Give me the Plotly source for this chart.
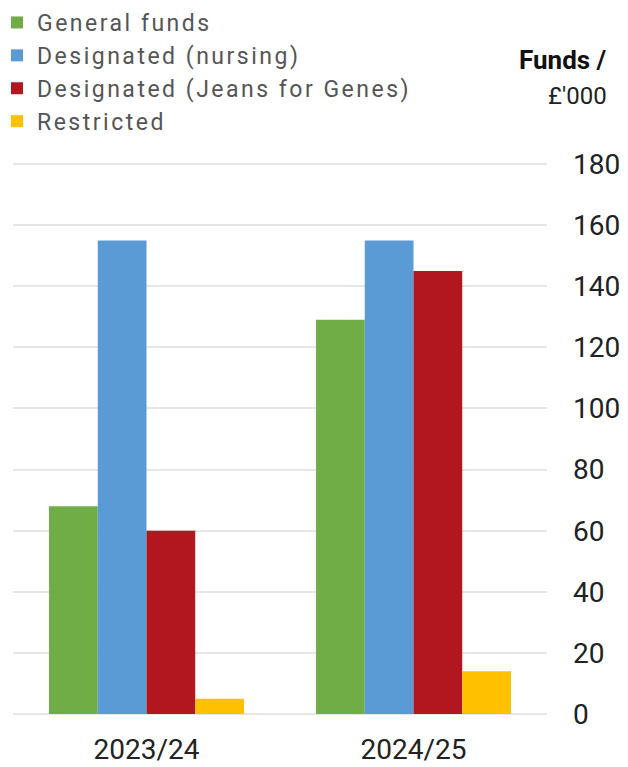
import plotly.graph_objects as go

categories = ["2023/24", "2024/25"]
general_funds = [68, 129]
designated_nursing = [155, 155]
designated_jfg = [60, 145]
restricted = [5, 14]

series = [
    ("General funds", general_funds, "#70AD47"),
    ("Designated (nursing)", designated_nursing, "#5B9BD5"),
    ("Designated (Jeans for Genes)", designated_jfg, "#B2161F"),
    ("Restricted", restricted, "#FFC000"),
]
y_ticks = list(range(0, 181, 20))

fig = go.Figure()
for name, vals, col in series:
    fig.add_trace(go.Bar(
        x=categories, y=vals, marker_color=col, marker_line_width=0,
        name='<span style="letter-spacing:2.5px">' + name + '</span>'))

# the page body has an 8px margin, so the figure sits 8px in from the window corner
OFF = 8
W, H = 628 - OFF, 767 - OFF
L, R, T, B = 5, 81, 153, 53
pw, ph = W - L - R, H - T - B


def px_x(s):
    return (s - OFF - L) / pw


def px_y(s):
    return 1 + (T - (s - OFF)) / ph


fig.update_layout(
    width=W, height=H,
    margin=dict(l=L, r=R, t=T, b=B, pad=0, autoexpand=False),
    paper_bgcolor="white", plot_bgcolor="white",
    barmode="group", bargap=0.27, bargroupgap=0,
    font=dict(family="Roboto", size=24, color="#222"),
    legend=dict(x=px_x(-3), y=px_y(1), xanchor="left", yanchor="top",
                font=dict(size=23, color="#555"), traceorder="normal",
                bgcolor="rgba(0,0,0,0)", tracegroupgap=0),
    showlegend=True,
    xaxis=dict(showgrid=False, showline=False, ticks="", ticklabelstandoff=16,
               automargin=False, tickfont=dict(size=28, color="#222")),
    yaxis=dict(side="right", range=[0, 181], tickvals=y_ticks, showgrid=True,
               gridcolor="#e6e6e6", gridwidth=2, zeroline=True, zerolinecolor="#e6e6e6",
               zerolinewidth=2, showline=False, ticks="", ticklabelstandoff=25,
               automargin=False, tickfont=dict(size=28, color="#222")),
    annotations=[
        dict(text="<b>Funds /</b>", xref="paper", yref="paper",
             x=px_x(609), y=px_y(60), xanchor="right", yanchor="middle",
             showarrow=False, font=dict(size=26, color="#111")),
        dict(text="£'000", xref="paper", yref="paper",
             x=px_x(609), y=px_y(96), xanchor="right", yanchor="middle",
             showarrow=False, font=dict(size=24, color="#222")),
    ],
)

fig.write_html("out.html")
